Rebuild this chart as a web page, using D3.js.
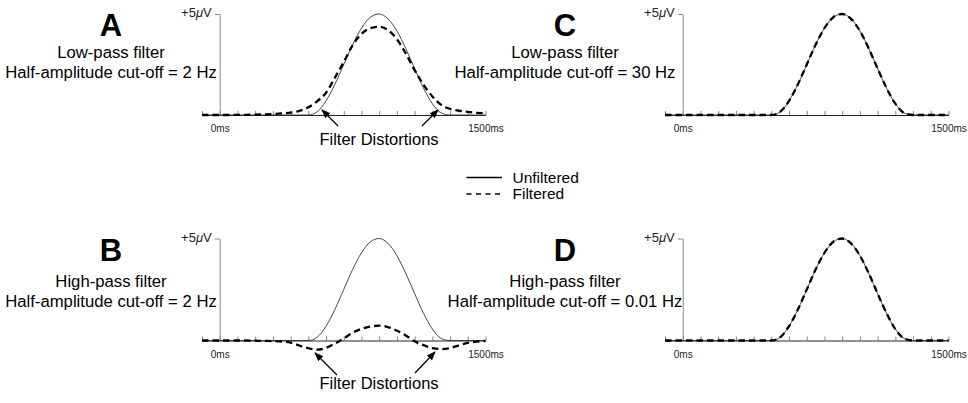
<!DOCTYPE html>
<html>
<head>
<meta charset="utf-8">
<script src="https://cdn.jsdelivr.net/npm/d3@7"></script>
<style>
body { margin: 0; background: #fff; }
svg { font-family: "Liberation Sans", Arial, sans-serif; }
</style>
</head>
<body>
<script>
// sample times (ms), every 50ms
const times = [-100, -50, 0, 50, 100, 150, 200, 250, 300, 350, 400, 450, 500, 550, 600, 650,
    700, 750, 800, 850, 900, 950, 1000, 1050, 1100, 1150, 1200, 1250, 1300, 1350, 1400, 1450, 1500];

// unfiltered waveform (uV)
const unfiltered = [0, 0, 0, 0, 0, 0, 0, 0, 0, 0, 0, 0, 0, 0.16, 0.70, 1.52,
    2.50, 3.48, 4.30, 4.84, 5.00, 4.76, 4.16, 3.29, 2.30, 1.34, 0.56, 0.10, 0, 0, 0, 0, 0];

// filtered waveforms (uV)
const lowPass2Hz = [0, 0, 0, 0, 0.01, 0.01, 0.02, 0.03, 0.05, 0.08, 0.12, 0.20, 0.38, 0.68, 1.10, 1.85,
    2.62, 3.45, 4.02, 4.30, 4.37, 4.20, 3.75, 3.05, 2.22, 1.50, 0.92, 0.50, 0.30, 0.21, 0.15, 0.11, 0.08];
const highPass2Hz = [0, 0, 0, 0, 0, 0, -0.01, -0.02, -0.03, -0.05, -0.10, -0.25, -0.38, -0.45, -0.36, -0.15,
    0.10, 0.38, 0.57, 0.68, 0.73, 0.66, 0.48, 0.25, -0.04, -0.23, -0.37, -0.42, -0.37, -0.24, -0.12, -0.05, -0.02];
const lowPass30Hz = [0, 0, 0, 0, 0, 0, 0, 0, 0, 0, 0, 0, 0, 0.16, 0.70, 1.52,
    2.50, 3.48, 4.30, 4.84, 5.00, 4.76, 4.16, 3.29, 2.30, 1.34, 0.56, 0.10, 0, 0, 0, 0, 0];
const highPass001Hz = [0, 0, 0, 0, 0, 0, 0, 0, 0, 0, 0, 0, 0, 0.16, 0.70, 1.52,
    2.50, 3.48, 4.30, 4.84, 5.00, 4.76, 4.16, 3.29, 2.30, 1.34, 0.56, 0.10, 0, 0, 0, 0, 0];

const xTicks = [-100, 0, 100, 200, 300, 400, 500, 600, 700, 800, 900, 1000, 1100, 1200, 1300, 1400, 1500];
const xLabels = {0: "0ms", 1500: "1500ms"};

const panelLetters = ["A", "B", "C", "D"];
const panelFilters = ["Low-pass filter", "High-pass filter", "Low-pass filter", "High-pass filter"];
const panelCutoffs = ["Half-amplitude cut-off = 2 Hz", "Half-amplitude cut-off = 2 Hz",
    "Half-amplitude cut-off = 30 Hz", "Half-amplitude cut-off = 0.01 Hz"];
const panelFiltered = [lowPass2Hz, highPass2Hz, lowPass30Hz, highPass001Hz];

const legendLabels = ["Unfiltered", "Filtered"];

const width = 968;
const height = 403;

const svg = d3.select("body")
    .append("svg")
    .attr("width", width)
    .attr("height", height);

svg.append("rect").attr("width", width).attr("height", height).attr("fill", "#fff");

// layout of the four panels
const layout = [
    {left: 202, base: 115, top: 14, textX: 111, letterY: 36, line1Y: 57.5, line2Y: 77.5},
    {left: 202, base: 340.5, top: 238.5, textX: 111, letterY: 261, line1Y: 287, line2Y: 307},
    {left: 665, base: 115, top: 14, textX: 565, letterY: 36, line1Y: 57.5, line2Y: 77.5},
    {left: 665, base: 340.5, top: 238.5, textX: 565, letterY: 261, line1Y: 287, line2Y: 307}
];

function drawPanel(i) {
    const p = layout[i];
    const g = svg.append("g");

    const xScale = d3.scaleLinear()
        .domain([-100, 1500])
        .range([p.left, p.left + 283.5]);
    const yScale = d3.scaleLinear()
        .domain([0, 5])
        .range([p.base, p.top]);

    // x axis, ticks pointing up
    const xAxis = g.append("g")
        .attr("transform", "translate(0," + p.base + ")")
        .call(d3.axisBottom(xScale)
            .tickValues(xTicks)
            .tickSizeInner(-4)
            .tickSizeOuter(0)
            .tickPadding(10)
            .tickFormat(function (d) {
                return xLabels[d] || "";
            }));
    xAxis.select(".domain").attr("stroke", "#222").attr("stroke-width", 1);
    xAxis.selectAll(".tick line").attr("stroke", "#666").attr("stroke-width", 0.8);
    xAxis.selectAll(".tick text")
        .attr("font-size", 10)
        .attr("font-family", "Liberation Sans, Arial, sans-serif")
        .attr("fill", "#222");

    // y axis
    const yAxis = g.append("g")
        .attr("transform", "translate(" + xScale(0) + ",0)")
        .call(d3.axisLeft(yScale)
            .tickValues([5])
            .tickSizeInner(5)
            .tickSizeOuter(0)
            .tickPadding(3)
            .tickFormat(""));
    yAxis.select(".domain").attr("stroke", "#888").attr("stroke-width", 1);
    yAxis.selectAll(".tick line").attr("stroke", "#888");
    const yLabel = yAxis.select(".tick text")
        .attr("font-size", 13)
        .attr("font-family", "Liberation Sans, Arial, sans-serif")
        .attr("fill", "#222")
        .attr("dy", "0.2em");
    yLabel.append("tspan").text("+5");
    yLabel.append("tspan").attr("font-style", "italic").text("\u03bc");
    yLabel.append("tspan").text("V");

    const line = d3.line()
        .x(function (d, k) {
            return xScale(times[k]);
        })
        .y(function (d) {
            return yScale(d);
        })
        .curve(d3.curveMonotoneX);

    g.append("path")
        .datum(unfiltered)
        .attr("fill", "none")
        .attr("stroke", "#333")
        .attr("stroke-width", 0.9)
        .attr("d", line);

    g.append("path")
        .datum(panelFiltered[i])
        .attr("fill", "none")
        .attr("stroke", "#000")
        .attr("stroke-width", 2.3)
        .attr("stroke-dasharray", "6.5,4")
        .attr("d", line);

    // titles
    g.append("text")
        .attr("x", p.textX)
        .attr("y", p.letterY)
        .attr("text-anchor", "middle")
        .attr("font-size", 31)
        .attr("font-weight", "bold")
        .text(panelLetters[i]);
    g.append("text")
        .attr("x", p.textX)
        .attr("y", p.line1Y)
        .attr("text-anchor", "middle")
        .attr("font-size", 16.7)
        .text(panelFilters[i]);
    g.append("text")
        .attr("x", p.textX)
        .attr("y", p.line2Y)
        .attr("text-anchor", "middle")
        .attr("font-size", 16.7)
        .text(panelCutoffs[i]);
}

for (let i = 0; i < 4; i++) {
    drawPanel(i);
}

// arrows to the distortions (panels A and B)
const defs = svg.append("defs");
defs.append("marker")
    .attr("id", "arrow")
    .attr("viewBox", "0 0 10 10")
    .attr("refX", 9)
    .attr("refY", 5)
    .attr("markerWidth", 7)
    .attr("markerHeight", 7)
    .attr("orient", "auto")
    .append("path")
    .attr("d", "M0,1 L10,5 L0,9 z")
    .attr("fill", "#000");

const arrows = [
    [338, 126, 322, 110], [422, 126, 438, 110],
    [337, 375, 315, 353], [415, 373, 435, 352]
];
svg.selectAll(".arrow")
    .data(arrows)
    .enter().append("line")
    .attr("class", "arrow")
    .attr("x1", function (d) { return d[0]; })
    .attr("y1", function (d) { return d[1]; })
    .attr("x2", function (d) { return d[2]; })
    .attr("y2", function (d) { return d[3]; })
    .attr("stroke", "#000")
    .attr("stroke-width", 1.3)
    .attr("marker-end", "url(#arrow)");

const distortionY = [145, 389];
svg.selectAll(".distortion")
    .data(distortionY)
    .enter().append("text")
    .attr("class", "distortion")
    .attr("x", 379)
    .attr("y", function (d) { return d; })
    .attr("text-anchor", "middle")
    .attr("font-size", 16.5)
    .text("Filter Distortions");

// legend
const legend = svg.append("g");
const legendY = [177.5, 194];
legendLabels.forEach(function (label, k) {
    legend.append("line")
        .attr("x1", 466.5)
        .attr("x2", 502)
        .attr("y1", legendY[k])
        .attr("y2", legendY[k])
        .attr("stroke", "#000")
        .attr("stroke-width", 1.6)
        .attr("stroke-dasharray", k === 0 ? null : "5,4.5");
    legend.append("text")
        .attr("x", 512.5)
        .attr("y", legendY[k] + 5)
        .attr("font-size", 15.5)
        .text(label);
});
</script>
</body>
</html>
